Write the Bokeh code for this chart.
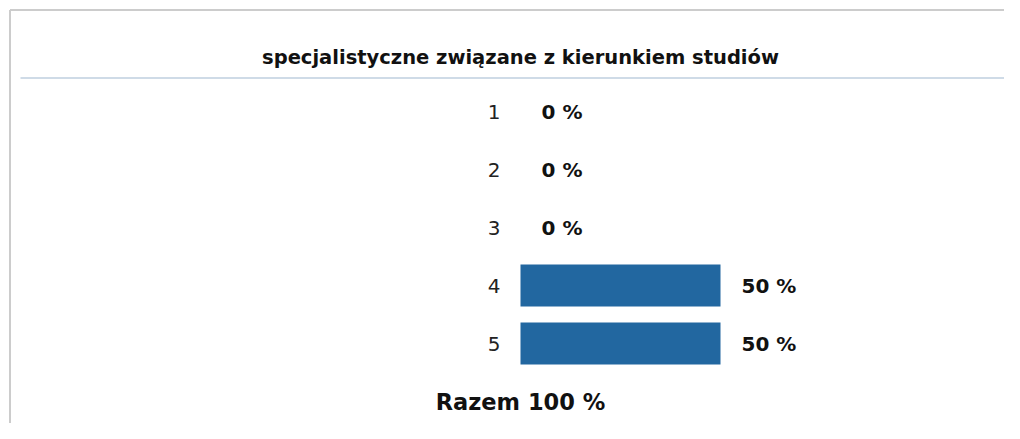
from bokeh.plotting import figure
from bokeh.models import Range1d, ColumnDataSource
from bokeh.core.properties import value
from bokeh.embed import file_html
from bokeh.resources import INLINE

title = "specjalistyczne związane z kierunkiem studiów"
categories = ["1", "2", "3", "4", "5"]
percents = [0, 0, 0, 50, 50]
total_label = "Razem"

W, H = 1004, 423
FONT = "DejaVu Sans"
BAR = "#2267a0"

row_px0 = 111.0   # pixel centre of first row
row_step = 58.0
zero_px = 520.0
px_per_pct = 4.0

p = figure(width=W, height=H, output_backend="svg", toolbar_location=None,
           x_range=Range1d(-zero_px / px_per_pct, (W - zero_px) / px_per_pct),
           y_range=Range1d(1 + (H - row_px0) / row_step, 1 - row_px0 / row_step),
           min_border=0, outline_line_color=None,
           background_fill_color="white", border_fill_color="white")
p.axis.visible = False
p.xgrid.visible = False
p.ygrid.visible = False
p.extra_x_ranges["px"] = Range1d(0, W)
p.extra_y_ranges["px"] = Range1d(H, 0)

ys = [i + 1 for i in range(len(categories))]
src = ColumnDataSource(dict(y=ys, cat=categories, v=percents,
                            zero=[0] * len(ys),
                            lab=[f"{v} %" for v in percents]))

p.hbar(y="y", left=0, right="v", height=42 / row_step, source=src,
       fill_color=BAR, line_color=None)
p.text(x="zero", y="y", text="cat", source=src, x_offset=-20,
       text_align="right", text_baseline="middle",
       text_font=value(FONT), text_font_size="20px", text_color="#222222")
p.text(x="v", y="y", text="lab", source=src, x_offset=21,
       text_align="left", text_baseline="middle",
       text_font=value(FONT), text_font_size="20px", text_font_style="bold",
       text_color="#111111")
p.text(x=[0], y=[len(categories) + 1], text=[f"{total_label} {sum(percents)} %"],
       text_align="center", text_baseline="middle",
       text_font=value(FONT), text_font_size="22.5px", text_font_style="bold",
       text_color="#111111")

# decoration (pixel space)
p.segment(x0=[9.5, 9.5], y0=[9.5, 9.5], x1=[9.5, W], y1=[H, 9.5],
          x_range_name="px", y_range_name="px", line_color="#cccccc", line_width=2)
p.segment(x0=[20], y0=[77.5], x1=[W], y1=[77.5],
          x_range_name="px", y_range_name="px", line_color="#cfdbe7", line_width=2)
p.text(x=[520], y=[57], text=[title], x_range_name="px", y_range_name="px",
       text_align="center", text_baseline="middle",
       text_font=value(FONT), text_font_size="19.5px", text_font_style="bold",
       text_color="#111111")

open("out.html", "w").write(file_html(p, INLINE))
